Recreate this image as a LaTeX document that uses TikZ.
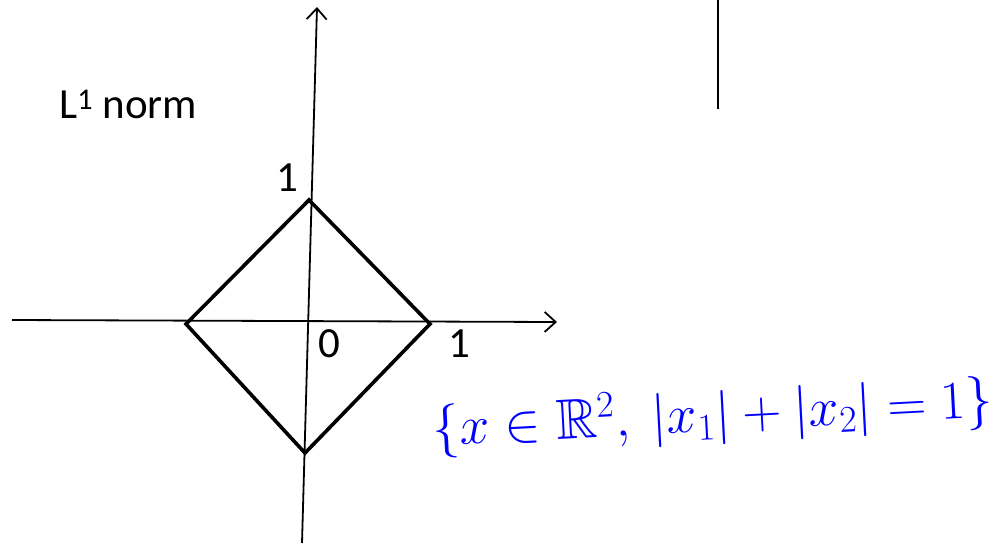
\documentclass[tikz,border=0pt]{standalone}
\usepackage{fontspec}
\usepackage{amssymb}
\setmainfont{Carlito}
\usetikzlibrary{arrows.meta}
\begin{document}
\begin{tikzpicture}[x=1pt,y=-1pt,
  axis/.style={line width=1.8pt,-{Straight Barb[length=11pt,width=20pt,line width=1.8pt]}},
  diam/.style={line width=3.6pt,line join=miter},
  lbl/.style={font=\fontsize{43}{48}\selectfont,inner sep=0pt},
  hand/.style={text=blue,inner sep=0pt}]
\useasboundingbox (0,0) rectangle (1007,547);
% axes
\coordinate (xs) at (12,320);
\coordinate (xe) at (557,322);
\coordinate (ys) at (302,543);
\coordinate (ye) at (317,7);
\draw[axis] (xs) -- (xe);
\draw[axis] (ys) -- (ye);
% diamond
\coordinate (T) at (309,200);
\coordinate (R) at (430,324);
\coordinate (B) at (305,453);
\coordinate (L) at (186,324);
\draw[diam] (T) -- (R) -- (B) -- (L) -- cycle;
% labels
\node[lbl] (one1) at (287,178) {1};
\node[lbl] (zero) at (329,344) {0};
\node[lbl] (one2) at (459,344) {1};
\node[lbl,anchor=west] (title) at (59,104) {L\textsuperscript{1} norm};
% vertical separator
\coordinate (s1) at (718,0);
\coordinate (s2) at (718,109);
\draw[line width=2pt] (s1) -- (s2);
% handwritten set
\node[hand,rotate=3] (set) at (713,416) {\scalebox{2.18}{\fontsize{26}{30}\selectfont$\{x\in\mathbb{R}^2,\ |x_1|+|x_2|=1\}$}};
\end{tikzpicture}
\end{document}
